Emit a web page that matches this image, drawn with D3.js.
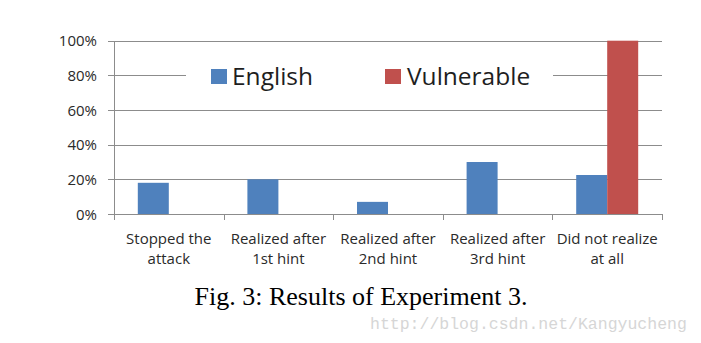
<!DOCTYPE html>
<html>
<head>
<meta charset="utf-8">
<script src="https://cdn.jsdelivr.net/npm/d3@7"></script>
<style>
  html, body { margin: 0; padding: 0; background: #fff; }
  svg { display: block; }
</style>
</head>
<body>
<svg id="chart" width="701" height="343"></svg>
<script>
// Categories (two-line labels) and series values in percent
const categories = [
  ["Stopped the", "attack"],
  ["Realized after", "1st hint"],
  ["Realized after", "2nd hint"],
  ["Realized after", "3rd hint"],
  ["Did not realize", "at all"]
];
const seriesNames = ["English", "Vulnerable"];
const english = [18, 20, 7, 30, 22.5];
const vulnerable = [0, 0, 0, 0, 100];
const yTicks = [0, 20, 40, 60, 80, 100];
const colors = ["#4f81bd", "#c0504d"];

const svg = d3.select("#chart");
const plotLeft = 114, plotRight = 662, plotTop = 40.7, plotBottom = 214;

const x = d3.scaleBand().domain(d3.range(categories.length)).range([plotLeft, plotRight]);
const y = d3.scaleLinear().domain([0, 100]).range([plotBottom, plotTop]);
const barW = 31;
const xSub = d3.scaleBand().domain(seriesNames).range([x.bandwidth() / 2 - barW, x.bandwidth() / 2 + barW]);

const gridColor = "#8c8c8c";
const sansFont = "'Open Sans', 'DejaVu Sans', sans-serif";

// Horizontal gridlines
svg.append("g").selectAll("line").data(yTicks).join("line")
  .attr("x1", plotLeft - 6).attr("x2", plotRight)
  .attr("y1", d => Math.round(y(d)) + 0.5).attr("y2", d => Math.round(y(d)) + 0.5)
  .attr("stroke", gridColor).attr("stroke-width", 1);

// Vertical axis line
svg.append("line")
  .attr("x1", plotLeft + 0.5).attr("x2", plotLeft + 0.5)
  .attr("y1", Math.round(plotTop)).attr("y2", plotBottom + 0.5)
  .attr("stroke", gridColor);

// Category separator ticks below the baseline
const sepX = d3.range(categories.length + 1).map(i => i < categories.length ? x(i) : plotRight);
svg.append("g").selectAll("line").data(sepX).join("line")
  .attr("x1", d => Math.round(d) + 0.5).attr("x2", d => Math.round(d) + 0.5)
  .attr("y1", plotBottom).attr("y2", plotBottom + 6)
  .attr("stroke", gridColor);

// Y tick labels
svg.append("g").selectAll("text").data(yTicks).join("text")
  .attr("x", 97).attr("y", d => y(d) + 5.5)
  .attr("text-anchor", "end")
  .attr("font-family", sansFont)
  .attr("font-size", 15).attr("fill", "#2a2a2a")
  .text(d => d + "%");

// Legend (white box interrupts the 80% gridline)
const legend = svg.append("g");
legend.append("rect").attr("x", 186).attr("y", 60).attr("width", 367).attr("height", 32).attr("fill", "#fff");
const legendItems = [
  { name: seriesNames[0], sx: 211, tx: 232 },
  { name: seriesNames[1], sx: 385, tx: 407 }
];
legendItems.forEach((it, i) => {
  legend.append("rect").attr("x", it.sx).attr("y", 69).attr("width", 16).attr("height", 15).attr("fill", colors[i]);
  legend.append("text").attr("x", it.tx).attr("y", 85)
    .attr("font-family", sansFont)
    .attr("font-size", 24.5).attr("fill", "#1e1e1e")
    .text(it.name);
});

// Bars
const series = [english, vulnerable];
series.forEach((vals, si) => {
  svg.append("g").selectAll("rect").data(vals).join("rect")
    .attr("x", (d, i) => x(i) + xSub(seriesNames[si]))
    .attr("width", xSub.bandwidth())
    .attr("y", d => y(d))
    .attr("height", d => plotBottom - y(d))
    .attr("fill", colors[si]);
});

// Category labels
const catG = svg.append("g");
categories.forEach((lines, i) => {
  const t = catG.append("text")
    .attr("text-anchor", "middle")
    .attr("font-family", sansFont)
    .attr("font-size", 15).attr("fill", "#2a2a2a");
  lines.forEach((ln, j) => {
    t.append("tspan").attr("x", x(i) + x.bandwidth() / 2).attr("y", 244 + j * 20).text(ln);
  });
});

// Caption
svg.append("text").attr("x", 361).attr("y", 305)
  .attr("text-anchor", "middle")
  .attr("font-family", "'Liberation Serif', 'Times New Roman', serif")
  .attr("font-size", 26).attr("fill", "#000")
  .text("Fig. 3: Results of Experiment 3.");

// Source URL
svg.append("text").attr("x", 370).attr("y", 329)
  .attr("font-family", "'Liberation Mono', monospace")
  .attr("font-size", 16.5).attr("fill", "#d6d6d6")
  .text("http://blog.csdn.net/Kangyucheng");
</script>
</body>
</html>
